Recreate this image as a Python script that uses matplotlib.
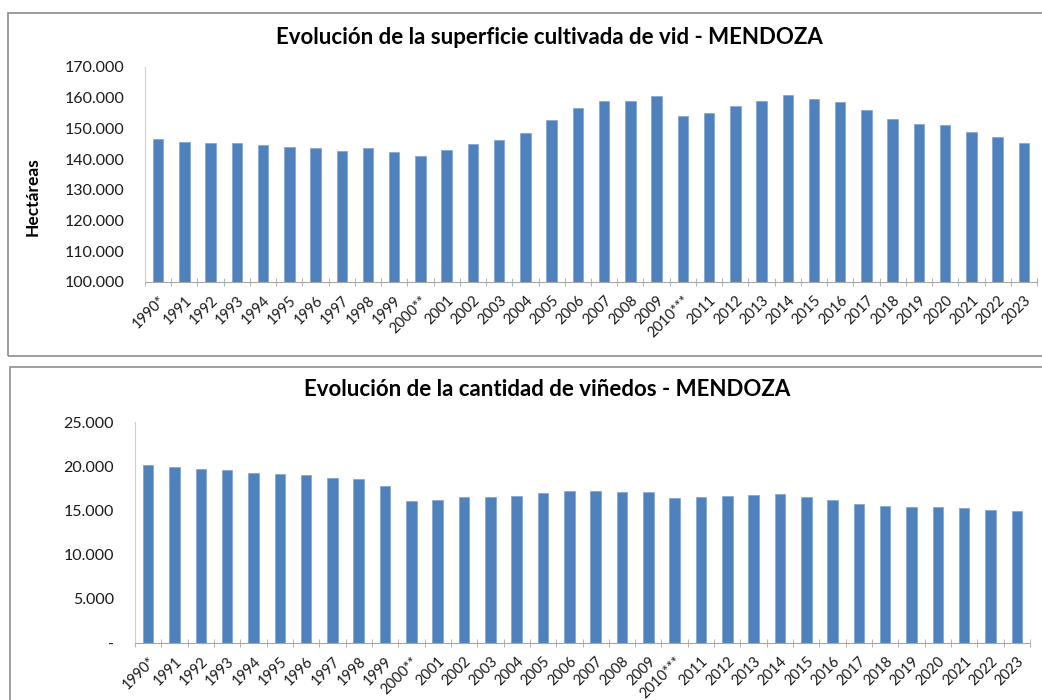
import matplotlib.pyplot as plt
from matplotlib.patches import Rectangle
from matplotlib.ticker import FuncFormatter, FixedLocator

plt.rcParams['font.family'] = ['Lato', 'DejaVu Sans']

years = ["1990*", "1991", "1992", "1993", "1994", "1995", "1996", "1997", "1998",
         "1999", "2000**", "2001", "2002", "2003", "2004", "2005", "2006", "2007",
         "2008", "2009", "2010***", "2011", "2012", "2013", "2014", "2015", "2016",
         "2017", "2018", "2019", "2020", "2021", "2022", "2023"]

# superficie cultivada (hectareas)
superficie = [146700, 145600, 145200, 145400, 144500, 144000, 143700, 142700, 143700,
              142200, 141000, 143100, 144900, 146100, 148600, 152800, 156500, 158900,
              158900, 160700, 154100, 154900, 157200, 158900, 160900, 159500, 158500,
              155900, 153000, 151400, 151100, 148900, 147200, 145400]

# cantidad de viñedos
vinedos = [20140, 19870, 19720, 19570, 19270, 19120, 18970, 18700, 18590,
           17760, 16060, 16210, 16480, 16480, 16670, 16930, 17160, 17230,
           17040, 17040, 16400, 16480, 16630, 16740, 16850, 16550, 16210,
           15690, 15460, 15350, 15350, 15230, 15080, 14970]

bar_color = "#4F81BD"
W, H = 1042, 700

fig = plt.figure(figsize=(W / 100, H / 100), dpi=100)


def thousands(v, pos):
    if v == 0:
        return "-"
    return f"{int(v):,}".replace(",", ".")


def style_axes(ax, values, ymin, ymax, step):
    x = range(len(values))
    ax.bar(x, [v - ymin for v in values], bottom=ymin, width=0.4, color=bar_color,
           edgecolor="#7fa3d0", linewidth=0.5)
    ax.set_xlim(-0.5, len(values) - 0.5)
    ax.set_ylim(ymin, ymax)
    ax.set_yticks(range(ymin, ymax + 1, step))
    ax.yaxis.set_major_formatter(FuncFormatter(thousands))
    ax.set_xticks(list(x))
    ax.set_xticklabels(years, rotation=45, ha="right", rotation_mode="anchor",
                       fontsize=10.5, color="#1a1a1a")
    ax.xaxis.set_minor_locator(FixedLocator([i - 0.5 for i in range(len(values) + 1)]))
    ax.tick_params(axis="x", which="major", length=0, pad=8)
    ax.tick_params(axis="x", which="minor", length=6, color="#a6a6a6", direction="inout")
    ax.tick_params(axis="y", length=0, labelsize=11.5, pad=15, labelcolor="#1a1a1a")
    for s in ["top", "right"]:
        ax.spines[s].set_visible(False)
    ax.spines["left"].set_color("#d0d0d0")
    ax.spines["bottom"].set_color("#a6a6a6")


# top chart
ax1 = fig.add_axes([145 / W, 1 - 282 / H, (1037 - 145) / W, 215 / H])
style_axes(ax1, superficie, 100000, 170000, 10000)
fig.text(33 / W, 1 - 197 / H, "Hectáreas", rotation=90, ha="center", va="center",
         fontsize=12.5, fontweight="bold")
fig.text(549 / W, 1 - 38 / H, "Evolución de la superficie cultivada de vid - MENDOZA",
         ha="center", va="center", fontsize=16, fontweight="bold")

# bottom chart
ax2 = fig.add_axes([135 / W, 1 - 643 / H, (1030 - 135) / W, 221 / H])
style_axes(ax2, vinedos, 0, 25000, 5000)
fig.text(547 / W, 1 - 390 / H, "Evolución de la cantidad de viñedos - MENDOZA",
         ha="center", va="center", fontsize=16, fontweight="bold")

# chart frames
fig.patches.append(Rectangle((8 / W, 1 - 356 / H), 1.0, (356 - 13) / H,
                             transform=fig.transFigure, fill=False,
                             edgecolor="#8c8c8c", linewidth=1.2))
fig.patches.append(Rectangle((10 / W, -0.1), 1.0, 0.1 + (700 - 367) / H,
                             transform=fig.transFigure, fill=False,
                             edgecolor="#8c8c8c", linewidth=1.2))

fig.savefig("out.png", dpi=100)
